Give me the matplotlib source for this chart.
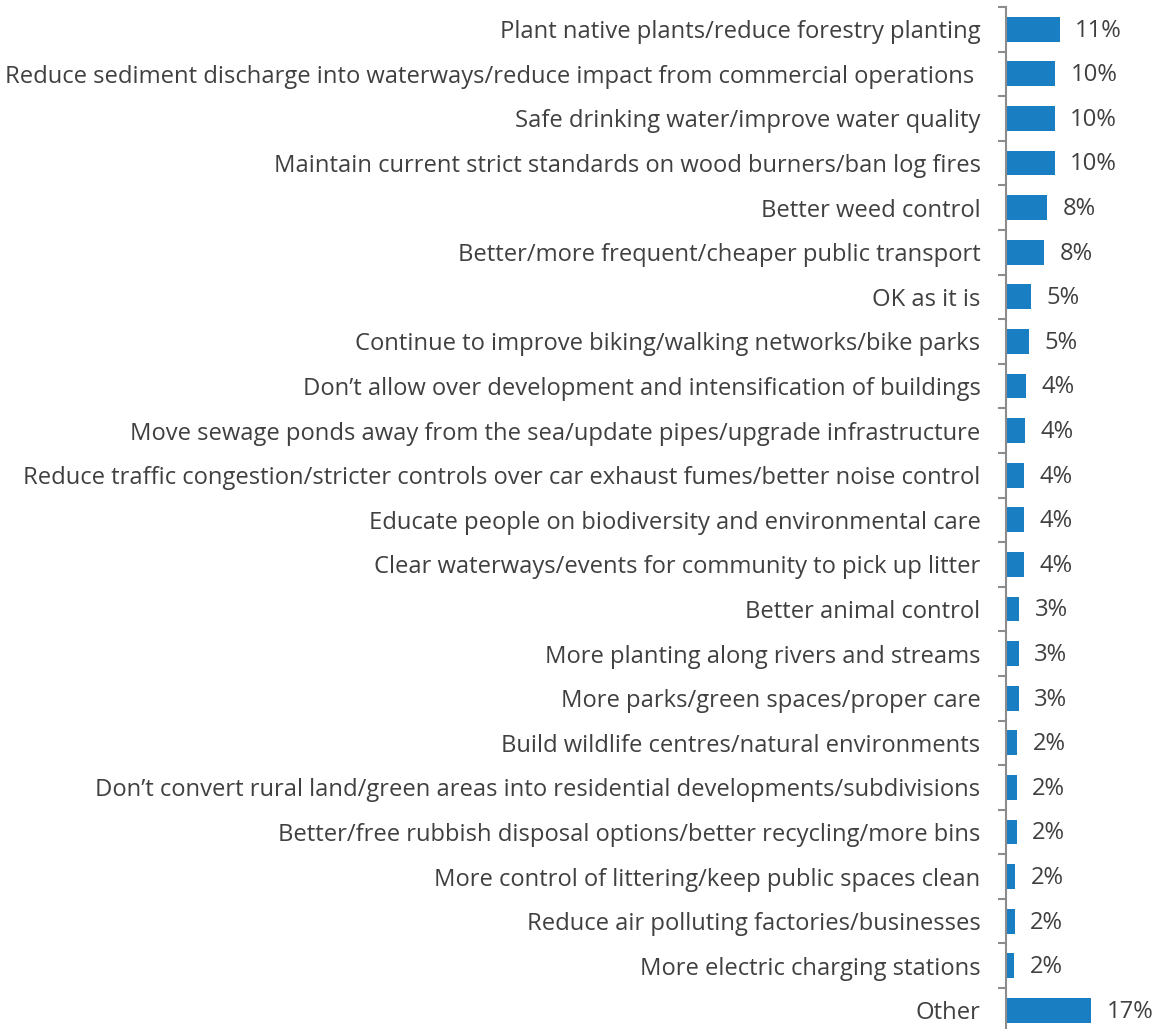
import matplotlib
matplotlib.use("Agg")
import matplotlib.pyplot as plt

categories = [
    "Plant native plants/reduce forestry planting",
    "Reduce sediment discharge into waterways/reduce impact from commercial operations ",
    "Safe drinking water/improve water quality",
    "Maintain current strict standards on wood burners/ban log fires",
    "Better weed control",
    "Better/more frequent/cheaper public transport",
    "OK as it is",
    "Continue to improve biking/walking networks/bike parks",
    "Don\u2019t allow over development and intensification of buildings",
    "Move sewage ponds away from the sea/update pipes/upgrade infrastructure",
    "Reduce traffic congestion/stricter controls over car exhaust fumes/better noise control",
    "Educate people on biodiversity and environmental care",
    "Clear waterways/events for community to pick up litter",
    "Better animal control",
    "More planting along rivers and streams",
    "More parks/green spaces/proper care",
    "Build wildlife centres/natural environments",
    "Don\u2019t convert rural land/green areas into residential developments/subdivisions",
    "Better/free rubbish disposal options/better recycling/more bins",
    "More control of littering/keep public spaces clean",
    "Reduce air polluting factories/businesses",
    "More electric charging stations",
    "Other",
]
values = [10.8, 9.95, 9.9, 9.85, 8.35, 7.7, 5.1, 4.75, 4.05, 3.95, 3.75, 3.7, 3.7,
          2.75, 2.65, 2.65, 2.35, 2.3, 2.25, 1.95, 1.9, 1.75, 17.15]
value_labels = ["11%", "10%", "10%", "10%", "8%", "8%", "5%", "5%", "4%", "4%", "4%",
                "4%", "4%", "3%", "3%", "3%", "2%", "2%", "2%", "2%", "2%", "2%", "17%"]

W, H, DPI = 1155, 1029, 100
fig = plt.figure(figsize=(W / DPI, H / DPI), dpi=DPI)
fig.patch.set_facecolor("white")

# axes: zero line at x=1005.5 px, rows span 6.9 px .. 1032.7 px from top
x0, x1 = 1005.5, 1155.0
ytop, ybot = 6.9, 1032.7
ax = fig.add_axes([x0 / W, (H - ybot) / H, (x1 - x0) / W, (ybot - ytop) / H])
ax.set_facecolor("none")

n = len(categories)
pos = list(range(n))
ax.barh(pos, values, height=0.56, color="#1A7EC3", edgecolor="none", zorder=2)

ax.set_xlim(0, (x1 - x0) / 5.0)
ax.set_ylim(n - 0.5, -0.5)

text_color = "#404040"
font = "Open Sans"
fsize = 17.1

ax.set_yticks(pos)
ax.set_yticklabels(categories, fontsize=fsize, color=text_color, family=font)
ax.set_yticks([i - 0.5 for i in range(n + 1)], minor=True)
ax.tick_params(axis="y", which="major", length=0, pad=18)
ax.tick_params(axis="y", which="minor", length=6, width=1.5, color="#8C8C8C")
ax.set_xticks([])

for side in ("top", "right", "bottom"):
    ax.spines[side].set_visible(False)
ax.spines["left"].set_color("#8C8C8C")
ax.spines["left"].set_linewidth(1.5)

for i, (v, lab) in enumerate(zip(values, value_labels)):
    ax.annotate(lab, xy=(v, i), xytext=(11, -1), textcoords="offset points",
                ha="left", va="center", fontsize=fsize, color=text_color,
                family=font, annotation_clip=False)

fig.savefig("out.png", dpi=DPI, facecolor="white")
